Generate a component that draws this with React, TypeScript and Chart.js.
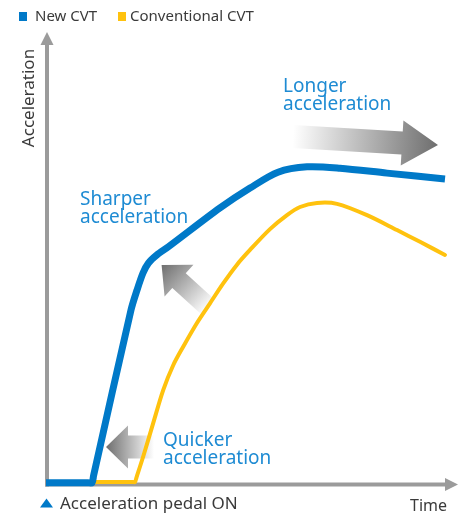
import React, { useEffect, useRef } from "react";
import { Chart, registerables } from "chart.js";

Chart.register(...registerables);

// ---- data ----
const seriesNames = ["New CVT", "Conventional CVT"];
const newCvtTime = [0, 10.5, 11.5, 11.9, 21.25, 22.75, 24.25, 25.6, 27.7, 30.6, 43.5, 51, 58, 65.25, 73.5, 85.25, 99.75];
const newCvtAccel = [0.5, 0.5, 0.5, 2.1, 38.7, 43.1, 46.9, 49.1, 50.9, 52.7, 61.3, 65.7, 69.2, 70.4, 70.1, 69, 67.7];
const convCvtTime = [11.5, 21.75, 22.25, 22.6, 24.3, 26.8, 29.3, 31.8, 34.3, 37.7, 41, 44.3, 47.7, 51, 56, 60.25, 63.5, 67.75, 72.75, 80.25, 87.75, 93.5, 99.75];
const convCvtAccel = [0.66, 0.66, 0.66, 1.6, 6.3, 13.7, 21.0, 26.5, 30.6, 35.8, 40.2, 44.6, 48.7, 52.0, 56.6, 59.7, 61.5, 62.4, 62.2, 59.7, 56.4, 53.8, 50.9];
const axisTitles = { x: "Time", y: "Acceleration" };
const markerLabel = "Acceleration pedal ON";
const noteTexts = [
  ["Longer", "acceleration"],
  ["Sharper", "acceleration"],
  ["Quicker", "acceleration"],
];

// ---- style / layout ----
const BLUE = "#0079c8";
const YELLOW = "#ffc20e";
const AXIS = "#9b9b9b";
const TEXT = "#3a3a3a";
const NOTE = "#1e8bd3";
const FONT = '"Noto Sans", sans-serif';

const notePos = [
  { x: 59.25, y: 86.9 },
  { x: 8.5, y: 61.9 },
  { x: 29.25, y: 8.6 },
];
const arrows = [
  { tail: [61.75, 77.1], tip: [98, 75.2], bodyW: 23, headW: 45, headL: 36 },
  { tail: [40.75, 39.2], tip: [28.9, 48.7], bodyW: 20, headW: 43, headL: 23.5 },
  { tail: [27, 8.4], tip: [15, 8.4], bodyW: 23, headW: 43, headL: 22 },
];

function drawArrow(ctx: CanvasRenderingContext2D, tx: number, ty: number, hx: number, hy: number, bodyW: number, headW: number, headL: number) {
  const dx = hx - tx, dy = hy - ty;
  const len = Math.hypot(dx, dy);
  const ux = dx / len, uy = dy / len;
  const nx = -uy, ny = ux;
  const bx = hx - ux * headL, by = hy - uy * headL;
  const g = ctx.createLinearGradient(tx, ty, hx, hy);
  g.addColorStop(0, "rgba(255,255,255,1)");
  g.addColorStop(1, "#6e6e6e");
  ctx.beginPath();
  ctx.moveTo(tx + (nx * bodyW) / 2, ty + (ny * bodyW) / 2);
  ctx.lineTo(bx + (nx * bodyW) / 2, by + (ny * bodyW) / 2);
  ctx.lineTo(bx + (nx * headW) / 2, by + (ny * headW) / 2);
  ctx.lineTo(hx, hy);
  ctx.lineTo(bx - (nx * headW) / 2, by - (ny * headW) / 2);
  ctx.lineTo(bx - (nx * bodyW) / 2, by - (ny * bodyW) / 2);
  ctx.lineTo(tx - (nx * bodyW) / 2, ty - (ny * bodyW) / 2);
  ctx.closePath();
  ctx.fillStyle = g;
  ctx.fill();
}

const decorPlugin = {
  id: "decor",
  beforeDatasetsDraw(chart: any) {
    const { ctx, chartArea, scales } = chart;
    const xs = scales.x, ys = scales.y;
    ctx.save();
    // axes
    const ax = chartArea.left + 1;
    const ay = chartArea.bottom - 0.5;
    ctx.strokeStyle = AXIS;
    ctx.fillStyle = AXIS;
    ctx.lineWidth = 4;
    ctx.beginPath();
    ctx.moveTo(ax, ay + 2);
    ctx.lineTo(ax, chartArea.top + 10);
    ctx.stroke();
    ctx.beginPath();
    ctx.moveTo(ax - 2, ay);
    ctx.lineTo(chartArea.right + 1, ay);
    ctx.stroke();
    ctx.beginPath();
    ctx.moveTo(ax, chartArea.top - 1);
    ctx.lineTo(ax + 6.5, chartArea.top + 12);
    ctx.lineTo(ax - 6.5, chartArea.top + 12);
    ctx.closePath();
    ctx.fill();
    ctx.beginPath();
    ctx.moveTo(chartArea.right + 12, ay);
    ctx.lineTo(chartArea.right - 1, ay - 6.5);
    ctx.lineTo(chartArea.right - 1, ay + 6.5);
    ctx.closePath();
    ctx.fill();
    // gradient arrows
    for (const a of arrows) {
      drawArrow(
        ctx,
        xs.getPixelForValue(a.tail[0]), ys.getPixelForValue(a.tail[1]),
        xs.getPixelForValue(a.tip[0]), ys.getPixelForValue(a.tip[1]),
        a.bodyW, a.headW, a.headL
      );
    }
    ctx.restore();
  },
  afterDatasetsDraw(chart: any) {
    const { ctx, scales } = chart;
    const xs = scales.x, ys = scales.y;
    ctx.save();
    // legend
    ctx.font = `15px ${FONT}`;
    ctx.textBaseline = "middle";
    ctx.textAlign = "left";
    const legendColors = [BLUE, YELLOW];
    const boxX = [19, 118];
    const textX = [35, 130];
    seriesNames.forEach((n, i) => {
      ctx.fillStyle = legendColors[i];
      ctx.fillRect(boxX[i], 12, 8, 9);
      ctx.fillStyle = TEXT;
      ctx.fillText(n, textX[i], 17);
    });
    // notes
    ctx.font = `19px ${FONT}`;
    ctx.textBaseline = "alphabetic";
    ctx.fillStyle = NOTE;
    noteTexts.forEach((lines, i) => {
      const px = xs.getPixelForValue(notePos[i].x);
      const py = ys.getPixelForValue(notePos[i].y);
      lines.forEach((l, j) => ctx.fillText(l, px, py + j * 18));
    });
    // y title
    ctx.fillStyle = TEXT;
    ctx.font = `17px ${FONT}`;
    ctx.save();
    ctx.translate(33.5, 98);
    ctx.rotate(-Math.PI / 2);
    ctx.textAlign = "center";
    ctx.fillText(axisTitles.y, 0, 0);
    ctx.restore();
    // x title
    ctx.font = `16px ${FONT}`;
    ctx.textAlign = "right";
    ctx.fillText(axisTitles.x, 447, 511);
    // pedal marker
    const mx = xs.getPixelForValue(0) + 0.5;
    ctx.fillStyle = BLUE;
    ctx.beginPath();
    ctx.moveTo(mx, 498.5);
    ctx.lineTo(mx + 6.5, 507.5);
    ctx.lineTo(mx - 6.5, 507.5);
    ctx.closePath();
    ctx.fill();
    ctx.fillStyle = TEXT;
    ctx.font = `17px ${FONT}`;
    ctx.textAlign = "left";
    ctx.fillText(markerLabel, 60, 509);
    ctx.restore();
  },
};

export default function App() {
  const ref = useRef<HTMLCanvasElement>(null);
  useEffect(() => {
    const chart = new Chart(ref.current as HTMLCanvasElement, {
      type: "line",
      data: {
        datasets: [
          {
            label: seriesNames[0],
            data: newCvtTime.map((t, i) => ({ x: t, y: newCvtAccel[i] })),
            borderColor: BLUE,
            borderWidth: 7,
            borderJoinStyle: "round",
            borderCapStyle: "butt",
            pointRadius: 0,
            tension: 0.3,
            clip: false,
          },
          {
            label: seriesNames[1],
            data: convCvtTime.map((t, i) => ({ x: t, y: convCvtAccel[i] })),
            borderColor: YELLOW,
            borderWidth: 4,
            borderJoinStyle: "round",
            borderCapStyle: "round",
            pointRadius: 0,
            tension: 0.3,
            clip: false,
          },
        ],
      },
      options: {
        animation: false,
        responsive: true,
        maintainAspectRatio: false,
        layout: { padding: { left: 46, right: 12, top: 33, bottom: 29 } },
        scales: {
          x: { type: "linear", min: 0, max: 100, display: false },
          y: { type: "linear", min: 0, max: 100, display: false },
        },
        plugins: { legend: { display: false }, tooltip: { enabled: false } },
        events: [],
      },
      plugins: [decorPlugin],
    } as any);
    return () => chart.destroy();
  }, []);
  return (
    <div style={{ position: "absolute", left: 0, top: 0, width: 458, height: 514 }}>
      <canvas ref={ref} />
    </div>
  );
}
